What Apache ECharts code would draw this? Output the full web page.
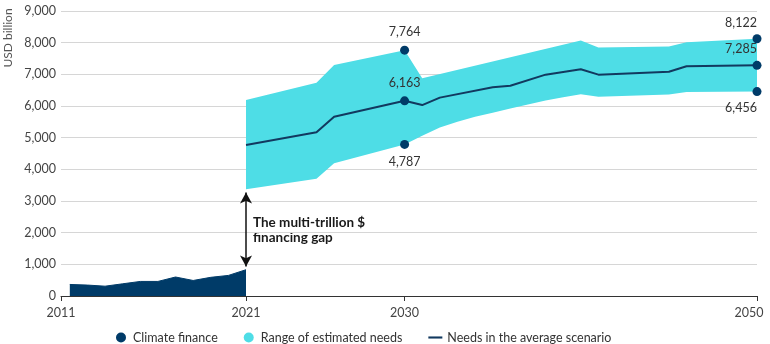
<!DOCTYPE html>
<html>
<head>
<meta charset="utf-8">
<script src="https://cdn.jsdelivr.net/npm/echarts@6/dist/echarts.min.js"></script>
<style>
  html, body { margin: 0; padding: 0; background: #fff; }
  #graph { width: 770px; height: 344px; }
</style>
</head>
<body>
<div id="graph"></div>
<script>
"use strict"

// climate finance actually tracked, 2011-2021
const financeYears = [2011, 2012, 2013, 2014, 2015, 2016, 2017, 2018, 2019, 2020, 2021];
const financeValues = [365, 345, 310, 385, 460, 460, 600, 490, 590, 650, 830];

// range of estimated needs (upper / lower edge)
const upperYears = [2021, 2025, 2026, 2030, 2031, 2040, 2041, 2045, 2046, 2050];
const upperValues = [6190, 6737, 7296, 7764, 6880, 8070, 7850, 7880, 8010, 8122];
const lowerYears = [2021, 2025, 2026, 2030, 2031, 2032, 2033, 2034, 2035, 2036, 2037, 2038, 2039, 2040, 2041, 2045, 2046, 2050];
const lowerValues = [3371, 3706, 4192, 4787, 5060, 5320, 5500, 5660, 5790, 5920, 6050, 6170, 6280, 6370, 6290, 6360, 6440, 6456];

// needs in the average scenario
const avgYears = [2021, 2025, 2026, 2030, 2031, 2032, 2035, 2036, 2038, 2040, 2041, 2045, 2046, 2050];
const avgValues = [4770, 5170, 5660, 6163, 6030, 6265, 6590, 6640, 6990, 7160, 6990, 7080, 7255, 7285];

// highlighted points
const pointYears = [2030, 2030, 2030, 2050, 2050, 2050];
const pointValues = [7764, 6163, 4787, 8122, 7285, 6456];

const xTicks = [2010.5, 2021, 2030, 2050];
const seriesNames = ["Climate finance", "Range of estimated needs", "Needs in the average scenario"];

const navy = "#003b68", cyan = "#4edde6", lineNavy = "#12395f";
const font = "Lato";

const zip = (xs, ys) => xs.map((x, i) => [x, ys[i]]);

const bandPoly = zip(upperYears, upperValues).concat(zip(lowerYears, lowerValues).reverse());

function renderBand(params, api)
{
    if (params.dataIndex !== 0)
        return null;
    const pts = bandPoly.map(p => api.coord(p));
    return {
        type: "polygon",
        shape: { points: pts },
        style: { fill: cyan }
    };
}

const pointData = pointYears.map((y, i) =>
{
    const below = i % 3 === 2;
    const right = y === 2050;
    return {
        value: [y, pointValues[i]],
        label: {
            position: below ? "bottom" : "top",
            offset: right ? [-16, below ? -2 : 2] : [0, 0]
        }
    };
});

const myChart = echarts.init(document.getElementById("graph"), null, { renderer: "canvas" });
const option = {
    animation: false,
    textStyle: { fontFamily: font },
    grid: { left: 61, right: 13, top: 11, bottom: 48, outerBoundsMode: "none" },
    legend: {
        top: 326,
        left: 111,
        itemWidth: 14,
        itemHeight: 10,
        itemGap: 26,
        textStyle: { fontFamily: font, fontSize: 12.5, color: "#333" },
        data: [
            { name: seriesNames[0], icon: "circle" },
            { name: seriesNames[1], icon: "circle" },
            { name: seriesNames[2], icon: "path://M0,0 H20 V3 H0 Z" }
        ]
    },
    xAxis: {
        type: "value",
        min: 2010.5,
        max: 2050,
        splitLine: { show: false },
        axisLine: { lineStyle: { color: "#333", width: 1 } },
        axisTick: { customValues: xTicks, length: 5, lineStyle: { color: "#333" } },
        axisLabel: {
            customValues: xTicks,
            formatter: v => v < 2011 ? "2011" : (v === 2050 ? "{e|2050}" : String(v)),
            color: "#444",
            fontSize: 12.5,
            margin: 10,
            rich: { e: { color: "#444", fontSize: 12.5, fontFamily: font, padding: [0, 16, 0, 0] } }
        }
    },
    yAxis: {
        type: "value",
        min: 0,
        max: 9000,
        interval: 1000,
        axisLine: { show: false },
        axisTick: { show: false },
        axisLabel: { color: "#444", fontSize: 12.5, margin: 5 },
        splitLine: { lineStyle: { color: "#d6d6d6", width: 1 } }
    },
    graphic: [
        {
            type: "text",
            x: 8, y: 38,
            rotation: Math.PI / 2,
            style: { text: "USD billion", fill: "#555", font: "12px " + font, align: "center", verticalAlign: "middle" }
        },
        {
            type: "text",
            left: 253, top: 215,
            style: {
                text: "The multi-trillion $\nfinancing gap",
                fill: "#1a1a1a",
                font: "bold 13.5px " + font,
                lineHeight: 15
            }
        }
    ],
    series: [
        {
            name: seriesNames[1],
            type: "custom",
            renderItem: renderBand,
            itemStyle: { color: cyan },
            data: [bandPoly[0]],
            z: 1,
            silent: true
        },
        {
            name: seriesNames[0],
            type: "line",
            data: zip(financeYears, financeValues),
            showSymbol: false,
            itemStyle: { color: navy },
            lineStyle: { color: navy, width: 1 },
            areaStyle: { color: navy, opacity: 1 },
            z: 2,
            markLine: {
                silent: true,
                symbol: ["arrow", "arrow"],
                symbolSize: [9, 11],
                label: { show: false },
                lineStyle: { color: "#111", width: 1.5, type: "solid" },
                data: [[{ coord: [2021, 3270] }, { coord: [2021, 930] }]]
            }
        },
        {
            name: seriesNames[2],
            type: "line",
            data: zip(avgYears, avgValues),
            showSymbol: false,
            itemStyle: { color: lineNavy },
            lineStyle: { color: lineNavy, width: 2 },
            z: 3
        },
        {
            name: "points",
            type: "scatter",
            data: pointData,
            symbolSize: 9,
            itemStyle: { color: navy, opacity: 1 },
            label: {
                show: true,
                formatter: p => p.value[1].toLocaleString("en-US"),
                color: "#333",
                fontSize: 12.5,
                distance: 7
            },
            z: 4
        }
    ]
};
myChart.setOption(option);
</script>
</body>
</html>
